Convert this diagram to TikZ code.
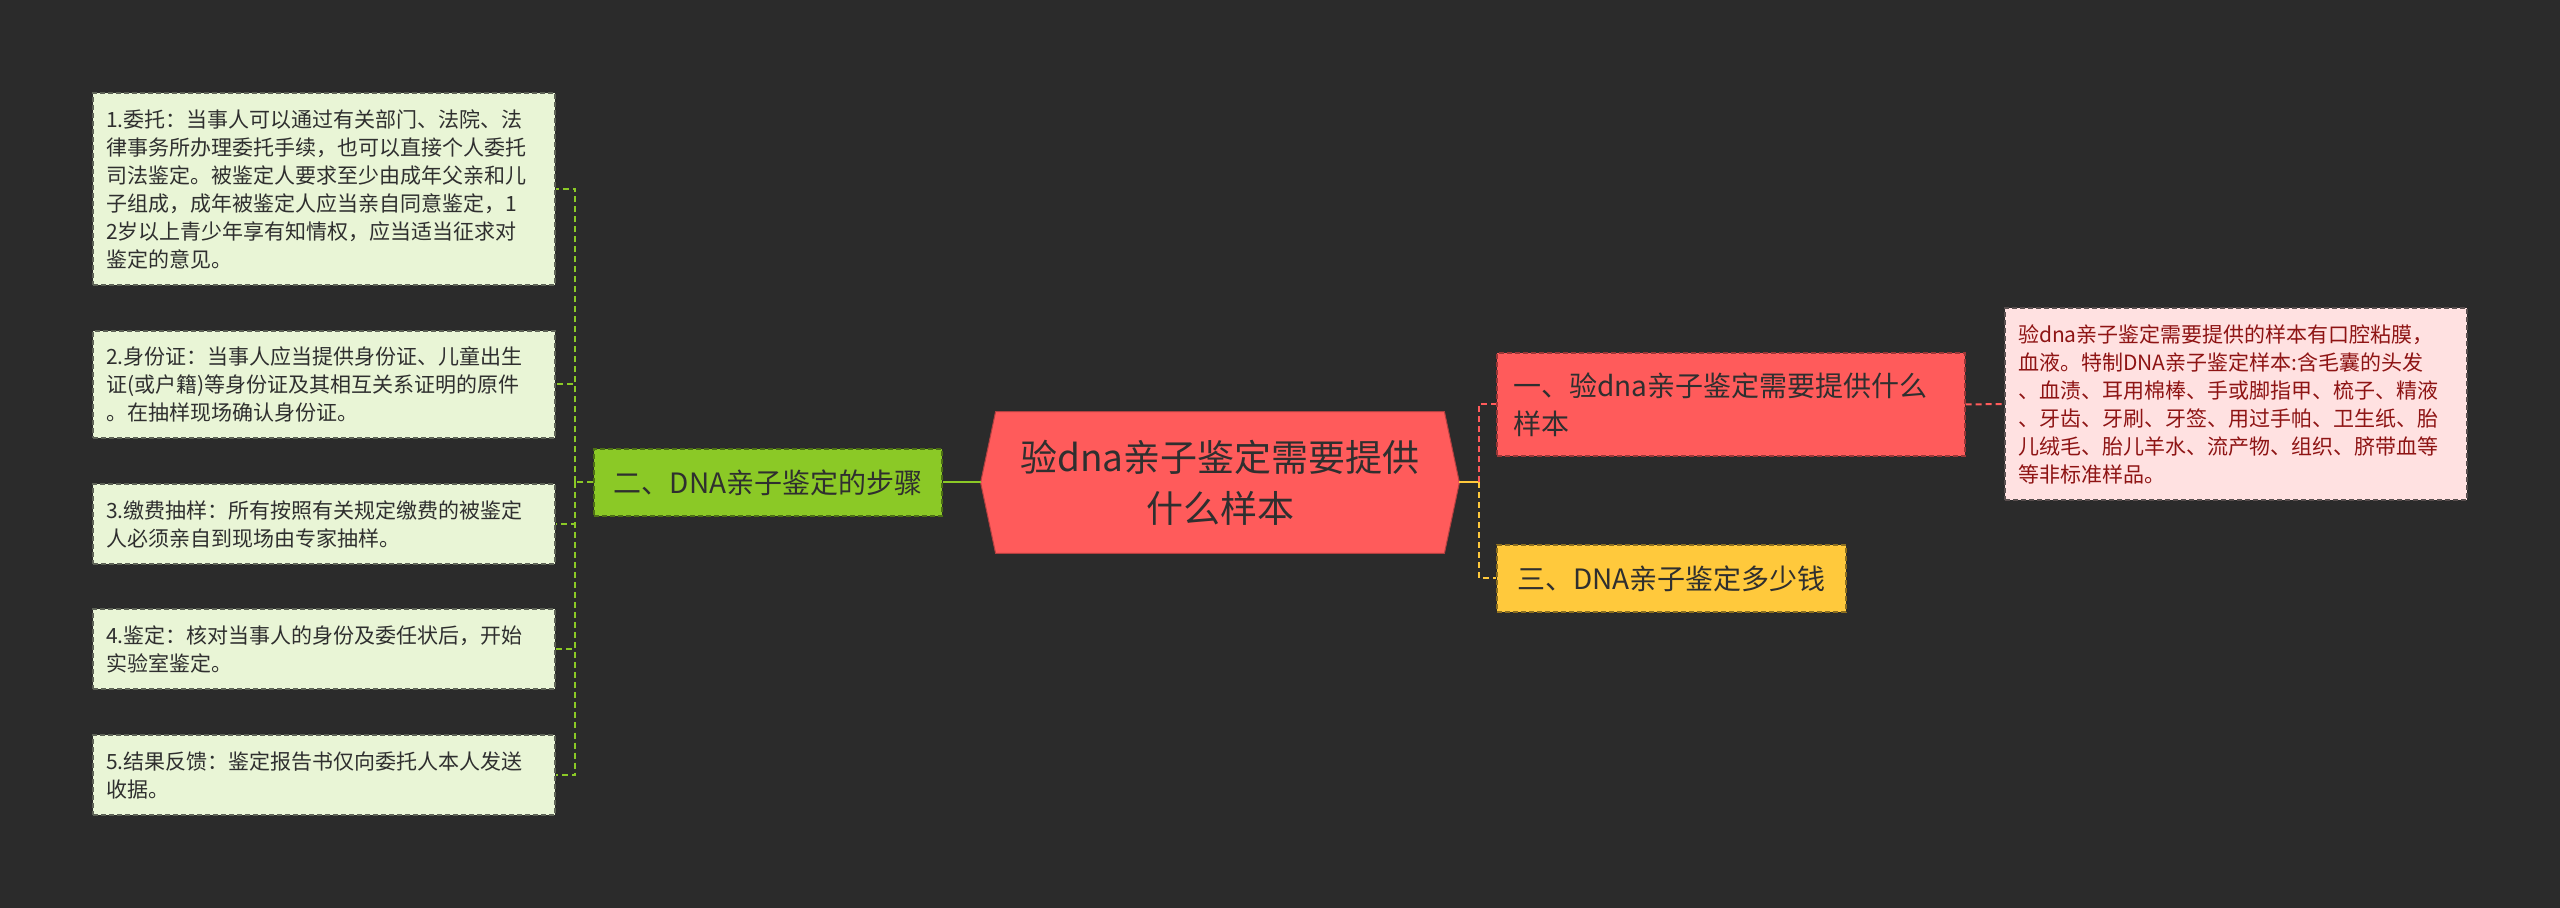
\documentclass[tikz,border=0pt]{standalone}
\usepackage{fontspec}
\setmainfont{Noto Sans CJK SC}
\usetikzlibrary{backgrounds}

\definecolor{bgdark}{HTML}{2B2B2B}
\definecolor{rootred}{HTML}{FF5B5B}
\definecolor{stepgreen}{HTML}{8BC926}
\definecolor{leafgreen}{HTML}{E9F5D6}
\definecolor{costyellow}{HTML}{FFC93C}
\definecolor{samplepink}{HTML}{FFE1E1}
\definecolor{sampletext}{HTML}{8E1414}
\definecolor{inktext}{HTML}{2F2F2F}

\begin{document}
\begin{tikzpicture}[
  x=0.5pt, y=-0.5pt,
  root/.style={rectangle, minimum width=239pt, minimum height=70.5pt,
               inner sep=0pt, align=center, text=inktext,
               font=\fontsize{18.5pt}{25.5pt}\selectfont},
  branch/.style={rectangle, draw, dash pattern=on 2.5pt off 1.5pt, line width=0.7pt,
                 inner sep=0pt, text=inktext, font=\fontsize{14pt}{19pt}\selectfont},
  leaf/.style={rectangle, draw=leafgreen!40!black, fill=leafgreen,
               dash pattern=on 2.5pt off 1.5pt, line width=0.7pt,
               inner xsep=6.5pt, inner ysep=0pt, text width=218pt, align=left,
               text=inktext, font=\fontsize{10.5pt}{14pt}\selectfont},
  link/.style={line width=1pt, dash pattern=on 3pt off 2pt}
]

% centre topic
\node[root] (root) at (1220,482.5) {验dna亲子鉴定需要提供\\什么样本};

% left branch
\node[branch, fill=stepgreen, draw=stepgreen!55!black, minimum width=174pt,
      minimum height=33.5pt] (steps) at (768,482.5) {二、DNA亲子鉴定的步骤};

\node[leaf, minimum height=96pt] (leafone) at (324,189) {1.委托：当事人可以通过有关部门、法院、法\\律事务所办理委托手续，也可以直接个人委托\\司法鉴定。被鉴定人要求至少由成年父亲和儿\\子组成，成年被鉴定人应当亲自同意鉴定，1\\2岁以上青少年享有知情权，应当适当征求对\\鉴定的意见。};
\node[leaf, minimum height=53.5pt] (leaftwo) at (324,384.5) {2.身份证：当事人应当提供身份证、儿童出生\\证(或户籍)等身份证及其相互关系证明的原件\\。在抽样现场确认身份证。};
\node[leaf, minimum height=40pt] (leafthree) at (324,524) {3.缴费抽样：所有按照有关规定缴费的被鉴定\\人必须亲自到现场由专家抽样。};
\node[leaf, minimum height=40pt] (leaffour) at (324,649) {4.鉴定：核对当事人的身份及委任状后，开始\\实验室鉴定。};
\node[leaf, minimum height=40pt] (leaffive) at (324,775) {5.结果反馈：鉴定报告书仅向委托人本人发送\\收据。};

% right branches
\node[branch, fill=rootred, draw=rootred!60!black, minimum width=234pt,
      minimum height=51.5pt, inner xsep=8pt, text width=218pt, align=left]
      (needs) at (1731,404.5) {一、验dna亲子鉴定需要提供什么\\样本};
\node[branch, fill=costyellow, draw=costyellow!55!black, minimum width=174.5pt,
      minimum height=33.5pt] (cost) at (1671.5,578.5) {三、DNA亲子鉴定多少钱};

\node[leaf, fill=samplepink, draw=samplepink!35!black, text=sampletext,
      minimum height=96pt] (sample) at (2236,404) {验dna亲子鉴定需要提供的样本有口腔粘膜，\\血液。特制DNA亲子鉴定样本:含毛囊的头发\\、血渍、耳用棉棒、手或脚指甲、梳子、精液\\、牙齿、牙刷、牙签、用过手帕、卫生纸、胎\\儿绒毛、胎儿羊水、流产物、组织、脐带血等\\等非标准样品。};

% joints
\coordinate (stepjoint) at (575,482.5);
\coordinate (rootjoint) at (1479,482.5);

% left connectors
\draw[stepgreen, line width=1pt] (root.west) -- (steps.east);
\draw[stepgreen, link] (steps.west) -- (stepjoint);
\foreach \leafname in {leafone, leaftwo, leafthree, leaffour, leaffive}
  \draw[stepgreen, link] (stepjoint) |- (\leafname.east);

% right connectors
\draw[costyellow, line width=1pt] (root.east) -- (rootjoint);
\draw[rootred, link] (rootjoint) |- (needs.west);
\draw[costyellow, link] (rootjoint) |- (cost.west);
\draw[rootred, link] (needs.east) -- (sample.west);

% background and hexagon
\begin{scope}[on background layer]
  \fill[bgdark] (0,0) rectangle (2560,908);
  \filldraw[fill=rootred, draw=rootred!70!black, line width=0.5pt]
    (root.west) -- ([xshift=7.5pt]root.north west) -- ([xshift=-7.5pt]root.north east)
    -- (root.east) -- ([xshift=-7.5pt]root.south east) -- ([xshift=7.5pt]root.south west)
    -- cycle;
\end{scope}

\end{tikzpicture}
\end{document}
